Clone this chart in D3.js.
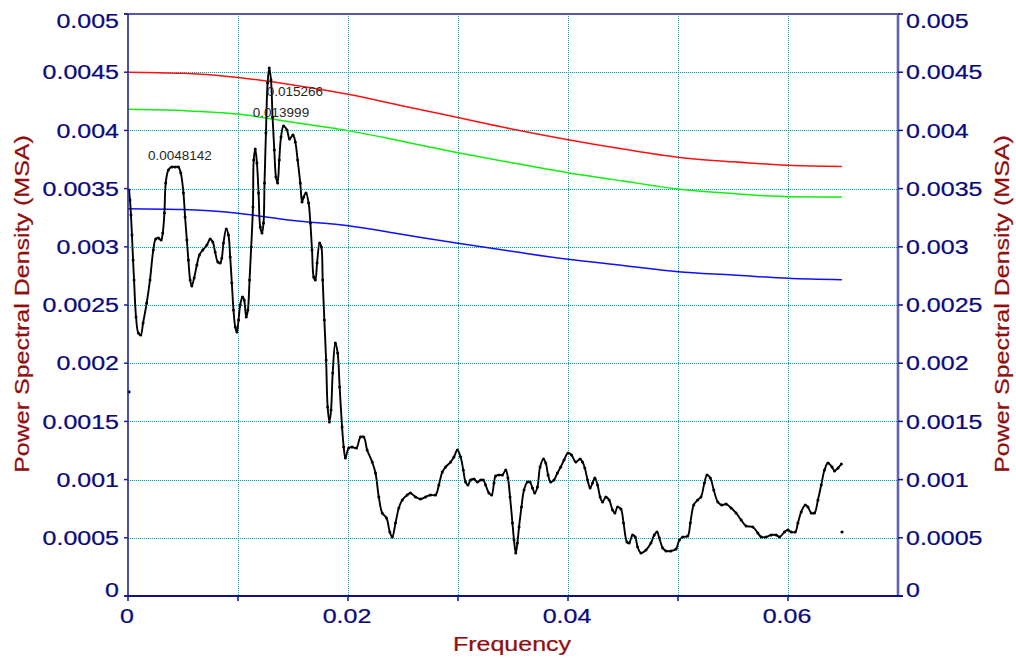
<!DOCTYPE html>
<html>
<head>
<meta charset="utf-8">
<script src="https://cdn.jsdelivr.net/npm/d3@7"></script>
<style>
  html, body { margin: 0; padding: 0; background: #ffffff; }
  svg { display: block; }
  text { font-family: "Liberation Sans", Arial, sans-serif; }
</style>
</head>
<body>
<svg id="chart" width="1016" height="658"></svg>
<script>
// Axis ticks
const xTickValues = [0, 0.01, 0.02, 0.03, 0.04, 0.05, 0.06, 0.07];
const xTickLabels = ["0", "", "0.02", "", "0.04", "", "0.06", ""];
const yTickValues = [0, 0.0005, 0.001, 0.0015, 0.002, 0.0025, 0.003, 0.0035, 0.004, 0.0045, 0.005];
const yTickLabels = ["0", "0.0005", "0.001", "0.0015", "0.002", "0.0025", "0.003", "0.0035", "0.004", "0.0045", "0.005"];

// Power spectral density estimate
const psdFreq = [0.00009,0.00018,0.00027,0.00036,0.00046,0.00055,0.00073,0.00094,0.00116,0.00137,0.00170,0.00200,0.00230,0.00252,0.00276,0.00301,0.00316,0.00331,0.00343,0.00367,0.00398,0.00428,0.00458,0.00480,0.00504,0.00519,0.00535,0.00549,0.00565,0.00580,0.00601,0.00626,0.00649,0.00680,0.00717,0.00747,0.00771,0.00792,0.00817,0.00838,0.00853,0.00868,0.00893,0.00913,0.00929,0.00944,0.00959,0.00975,0.00990,0.01005,0.01020,0.01041,0.01056,0.01075,0.01090,0.01105,0.01120,0.01136,0.01143,0.01157,0.01172,0.01187,0.01202,0.01218,0.01232,0.01241,0.01254,0.01269,0.01284,0.01300,0.01314,0.01330,0.01345,0.01360,0.01375,0.01391,0.01414,0.01445,0.01469,0.01500,0.01521,0.01542,0.01566,0.01582,0.01597,0.01618,0.01642,0.01658,0.01673,0.01688,0.01703,0.01719,0.01742,0.01758,0.01770,0.01785,0.01801,0.01815,0.01831,0.01846,0.01861,0.01885,0.01906,0.01924,0.01946,0.01961,0.01976,0.02006,0.02037,0.02077,0.02113,0.02143,0.02174,0.02220,0.02250,0.02280,0.02311,0.02350,0.02380,0.02402,0.02432,0.02462,0.02493,0.02538,0.02568,0.02614,0.02659,0.02705,0.02750,0.02796,0.02826,0.02857,0.02887,0.02933,0.02963,0.02994,0.03024,0.03048,0.03069,0.03090,0.03115,0.03145,0.03176,0.03206,0.03230,0.03251,0.03281,0.03306,0.03327,0.03342,0.03373,0.03404,0.03434,0.03454,0.03473,0.03495,0.03509,0.03525,0.03540,0.03555,0.03577,0.03600,0.03631,0.03655,0.03677,0.03698,0.03722,0.03746,0.03777,0.03798,0.03819,0.03843,0.03873,0.03904,0.03934,0.03964,0.04001,0.04032,0.04071,0.04110,0.04132,0.04153,0.04178,0.04201,0.04223,0.04244,0.04269,0.04292,0.04314,0.04344,0.04374,0.04405,0.04426,0.04451,0.04481,0.04505,0.04536,0.04556,0.04587,0.04611,0.04633,0.04663,0.04709,0.04754,0.04784,0.04809,0.04830,0.04861,0.04891,0.04936,0.04982,0.05012,0.05043,0.05088,0.05112,0.05143,0.05179,0.05209,0.05240,0.05264,0.05294,0.05325,0.05362,0.05398,0.05437,0.05483,0.05528,0.05574,0.05619,0.05680,0.05726,0.05756,0.05801,0.05847,0.05893,0.05923,0.05968,0.05999,0.06029,0.06066,0.06090,0.06120,0.06157,0.06181,0.06211,0.06241,0.06272,0.06302,0.06332,0.06363,0.06400,0.06423,0.06455,0.06485];
const psdValue = [0.003488,0.003402,0.003273,0.003101,0.002887,0.002715,0.002397,0.002259,0.002242,0.002345,0.002517,0.002715,0.002973,0.003067,0.003076,0.003058,0.003119,0.003290,0.003548,0.003660,0.003686,0.003686,0.003686,0.003634,0.003462,0.003256,0.003058,0.002887,0.002715,0.002663,0.002732,0.002844,0.002930,0.002973,0.003015,0.003067,0.003041,0.002955,0.002869,0.002861,0.002904,0.003033,0.003153,0.003101,0.002912,0.002689,0.002457,0.002311,0.002268,0.002371,0.002500,0.002569,0.002543,0.002397,0.002457,0.002715,0.002998,0.003342,0.003746,0.003840,0.003720,0.003462,0.003170,0.003119,0.003204,0.003548,0.003978,0.004407,0.004536,0.004433,0.004115,0.003832,0.003600,0.003548,0.003746,0.003943,0.004038,0.004003,0.003926,0.003960,0.003900,0.003746,0.003548,0.003385,0.003428,0.003462,0.003376,0.003204,0.002973,0.002741,0.002715,0.002861,0.003033,0.002998,0.002715,0.002371,0.002028,0.001624,0.001495,0.001598,0.001916,0.002174,0.002088,0.001796,0.001452,0.001280,0.001186,0.001271,0.001280,0.001271,0.001366,0.001366,0.001254,0.001151,0.001057,0.000851,0.000713,0.000670,0.000550,0.000507,0.000627,0.000756,0.000825,0.000868,0.000885,0.000851,0.000833,0.000851,0.000868,0.000868,0.000954,0.001065,0.001108,0.001151,0.001194,0.001254,0.001194,0.001082,0.000979,0.000954,0.000997,0.001005,0.000979,0.000997,0.000997,0.000954,0.000885,0.000868,0.000971,0.001031,0.001040,0.001040,0.001082,0.001014,0.000851,0.000627,0.000481,0.000369,0.000455,0.000593,0.000765,0.000911,0.000979,0.000979,0.000928,0.000885,0.000936,0.001108,0.001177,0.001143,0.001040,0.000979,0.000997,0.001057,0.001108,0.001168,0.001229,0.001211,0.001151,0.001177,0.001151,0.001100,0.000997,0.000928,0.000971,0.001014,0.000954,0.000851,0.000808,0.000851,0.000825,0.000739,0.000713,0.000765,0.000747,0.000627,0.000464,0.000455,0.000524,0.000507,0.000421,0.000369,0.000395,0.000455,0.000524,0.000550,0.000498,0.000412,0.000387,0.000387,0.000404,0.000481,0.000507,0.000515,0.000627,0.000782,0.000825,0.000851,0.000971,0.001040,0.001014,0.000911,0.000808,0.000782,0.000790,0.000756,0.000713,0.000653,0.000601,0.000593,0.000541,0.000507,0.000507,0.000524,0.000524,0.000507,0.000550,0.000567,0.000550,0.000550,0.000627,0.000722,0.000782,0.000765,0.000713,0.000713,0.000825,0.000954,0.001082,0.001143,0.001108,0.001074,0.001100,0.001134];

// Stand-alone samples at both ends of the spectrum
const loneFreq = [0.00009, 0.06491];
const loneValue = [0.001753, 0.000550];

// Confidence levels (red: upper, green: middle, blue: lower)
const levelFreq = [0, 0.005, 0.01, 0.015, 0.02, 0.025, 0.03, 0.035, 0.04, 0.045, 0.05, 0.055, 0.06, 0.0649];
const levelRed   = [0.00450, 0.00449, 0.004455, 0.00439, 0.00431, 0.00421, 0.00411, 0.00401, 0.00392, 0.00384, 0.00377, 0.00373, 0.00370, 0.00369];
const levelGreen = [0.004181, 0.00417, 0.00414, 0.00407, 0.003998, 0.003905, 0.003808, 0.00372, 0.003637, 0.003565, 0.003497, 0.003458, 0.00343, 0.003428];
const levelBlue  = [0.003327, 0.00332, 0.003288, 0.003226, 0.003181, 0.003106, 0.00303, 0.00296, 0.002893, 0.00284, 0.002786, 0.002758, 0.002729, 0.002717];

// Peak annotations: text, frequency, label height
const peakText = ["0.0048142", "0.015266", "0.013999"];
const peakFreq = [0.0048142, 0.015266, 0.013999];
const peakLevel = [0.003746, 0.004298, 0.004118];

(function draw() {
  const svg = d3.select("#chart");
  const pL = 128, pR = 898, pT = 14, pB = 596;

  const x = d3.scaleLinear().domain([0, 0.07]).range([pL, pR]);
  const y = d3.scaleLinear().domain([0, 0.005]).range([pB, pT]);

  const labelColor = "#0a0a7e";
  const titleColor = "#8e0f0f";
  const gridColor = "#1f9c9c";
  const stretch = 1.22;

  // Grid
  const grid = svg.append("g");
  grid.selectAll("line.vx").data(xTickValues.filter(v => v > 0 && v < 0.07)).join("line")
    .attr("x1", d => Math.round(x(d)) + 0.5).attr("x2", d => Math.round(x(d)) + 0.5)
    .attr("y1", pT).attr("y2", pB)
    .attr("stroke", gridColor).attr("stroke-width", 1).attr("stroke-dasharray", "1,1");
  grid.selectAll("line.hy").data(yTickValues.filter(v => v > 0 && v < 0.005)).join("line")
    .attr("x1", pL).attr("x2", pR)
    .attr("y1", d => Math.round(y(d)) + 0.5).attr("y2", d => Math.round(y(d)) + 0.5)
    .attr("stroke", gridColor).attr("stroke-width", 1).attr("stroke-dasharray", "1,1");

  // Confidence level curves
  const levelLine = d3.line().x(d => x(d[0])).y(d => y(d[1])).curve(d3.curveMonotoneX);
  [[levelRed, "#ff1010"], [levelGreen, "#10ee10"], [levelBlue, "#1010ff"]].forEach(([vals, col]) => {
    svg.append("path")
      .attr("d", levelLine(levelFreq.map((f, i) => [f, vals[i]])))
      .attr("fill", "none").attr("stroke", col).attr("stroke-width", 1.5);
  });

  // Spectrum
  const n = Math.min(psdFreq.length, psdValue.length);
  const psd = d3.range(n).map(i => [psdFreq[i], psdValue[i]]);
  const psdLine = d3.line().x(d => x(d[0])).y(d => y(d[1])).curve(d3.curveCatmullRom.alpha(0.5));
  svg.append("path").attr("d", psdLine(psd))
    .attr("fill", "none").attr("stroke", "#000").attr("stroke-width", 1.9).attr("stroke-linejoin", "round");
  svg.append("g").selectAll("circle").data(psd).join("circle")
    .attr("cx", d => x(d[0])).attr("cy", d => y(d[1])).attr("r", 1.5).attr("fill", "#000");
  svg.append("g").selectAll("circle").data(loneFreq.map((f, i) => [f, loneValue[i]])).join("circle")
    .attr("cx", d => x(d[0])).attr("cy", d => y(d[1])).attr("r", 1.6).attr("fill", "#000");

  // Peak labels
  peakText.forEach((t, i) => {
    svg.append("text")
      .attr("x", x(peakFreq[i]) - 1).attr("y", y(peakLevel[i]))
      .attr("text-anchor", "middle").attr("font-size", 13.5).attr("fill", "#262626")
      .text(t);
  });

  // Axes frame
  svg.append("line").attr("x1", pL - 4).attr("x2", pR).attr("y1", pT).attr("y2", pT)
    .attr("stroke", "#5656a8").attr("stroke-width", 2);
  svg.append("line").attr("x1", pL).attr("x2", pL).attr("y1", pT).attr("y2", pB + 1)
    .attr("stroke", "#22229c").attr("stroke-width", 1.6);
  svg.append("line").attr("x1", pR).attr("x2", pR).attr("y1", pT - 1).attr("y2", pB + 1)
    .attr("stroke", "#6262b2").attr("stroke-width", 2.6);
  svg.append("line").attr("x1", pL - 4).attr("x2", pR + 5).attr("y1", pB).attr("y2", pB)
    .attr("stroke", "#101088").attr("stroke-width", 2);

  // Tick marks
  svg.append("g").selectAll("line").data(yTickValues).join("line")
    .attr("x1", pL - 4).attr("x2", pL).attr("y1", d => y(d)).attr("y2", d => y(d))
    .attr("stroke", "#22229c").attr("stroke-width", 1.5);
  svg.append("g").selectAll("line").data(yTickValues).join("line")
    .attr("x1", pR).attr("x2", pR + 5).attr("y1", d => y(d)).attr("y2", d => y(d))
    .attr("stroke", "#101088").attr("stroke-width", 1.5);
  svg.append("g").selectAll("line").data(xTickValues.filter(v => v < 0.07)).join("line")
    .attr("x1", d => x(d)).attr("x2", d => x(d)).attr("y1", pB).attr("y2", pB + 5)
    .attr("stroke", "#101088").attr("stroke-width", 1.5);

  // Labels, stretched horizontally
  function stretchedText(g, tx, ty, anchor, txt, size, color, rot) {
    g.append("text")
      .attr("transform", `translate(${tx},${ty})` + (rot ? ` rotate(${rot})` : "") + ` scale(${stretch},1)`)
      .attr("text-anchor", anchor).attr("font-size", size).attr("fill", color)
      .attr("stroke", color).attr("stroke-width", 0.25)
      .attr("dominant-baseline", "central")
      .text(txt);
  }
  const labels = svg.append("g");
  yTickValues.forEach((v, i) => {
    const cy = Math.max(21, Math.min(590, y(v)));
    stretchedText(labels, 119, cy, "end", yTickLabels[i], 20.5, labelColor);
    stretchedText(labels, 906, cy, "start", yTickLabels[i], 20.5, labelColor);
  });
  xTickValues.forEach((v, i) => {
    if (xTickLabels[i]) stretchedText(labels, x(v) - 1, 616, "middle", xTickLabels[i], 20.5, labelColor);
  });

  // Axis titles
  stretchedText(labels, 512, 644, "middle", "Frequency", 20.5, titleColor);
  stretchedText(labels, 22, 304, "middle", "Power Spectral Density (MSA)", 20.5, titleColor, -90);
  stretchedText(labels, 1002, 304, "middle", "Power Spectral Density (MSA)", 20.5, titleColor, -90);
})();
</script>
</body>
</html>
